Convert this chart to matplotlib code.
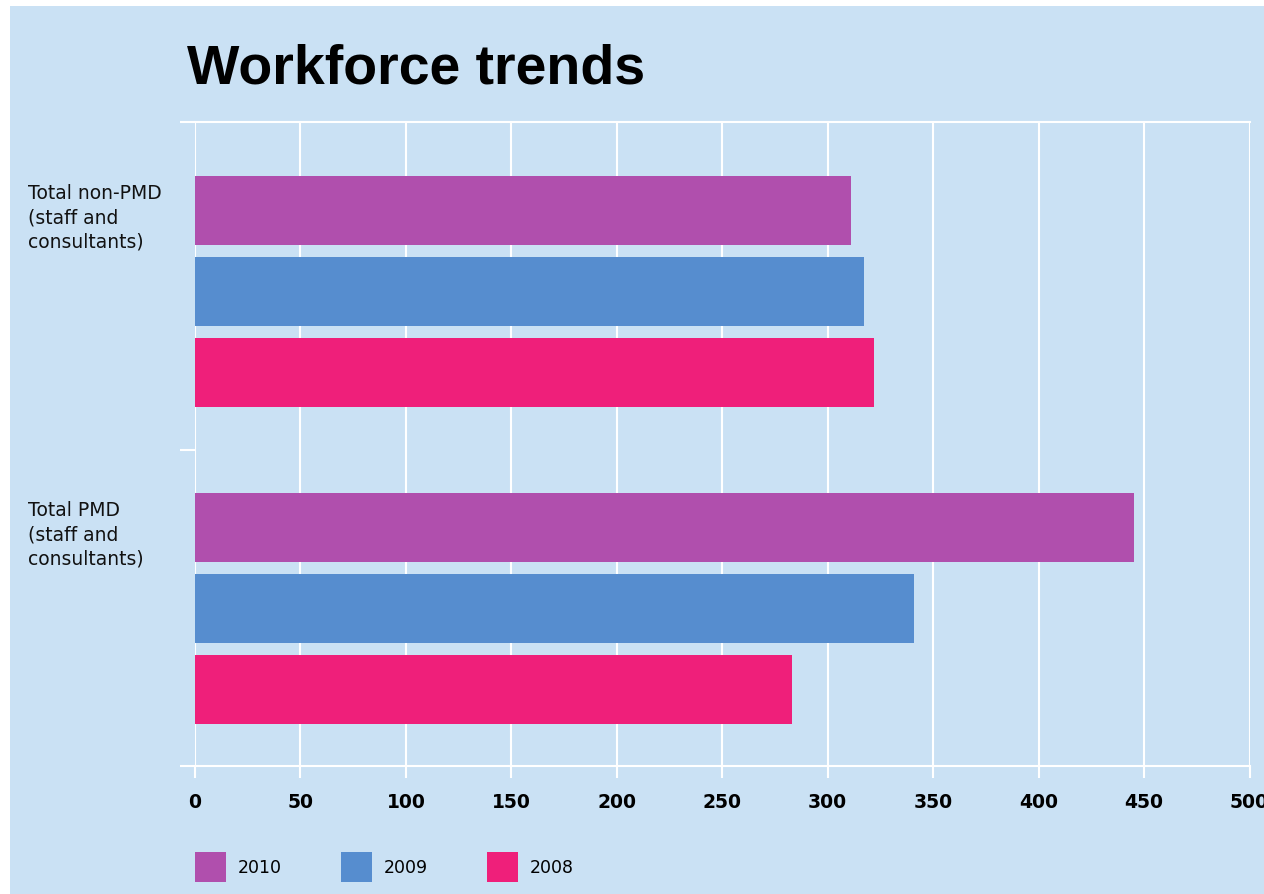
import matplotlib
matplotlib.use("Agg")
import matplotlib.pyplot as plt
from matplotlib.patches import Rectangle
import numpy as np

plt.rcParams['font.family'] = ['DejaVu Sans']

categories = ["Total non-PMD\n(staff and\nconsultants)", "Total PMD\n(staff and\nconsultants)"]
years = ["2010", "2009", "2008"]
values = {
    "2010": [311, 445],
    "2009": [317, 341],
    "2008": [322, 283],
}
colors = {"2010": "#B04FAD", "2009": "#568DCF", "2008": "#EF1F7A"}
xticks = [0, 50, 100, 150, 200, 250, 300, 350, 400, 450, 500]

BG = "#CAE1F4"
W, H = 1264, 895
fig = plt.figure(figsize=(W / 100, H / 100), dpi=100)
fig.patch.set_facecolor("white")
fig.add_artist(Rectangle((10 / W, 0), 1, 1 - 7 / H, transform=fig.transFigure,
                         facecolor=BG, edgecolor="none", zorder=-10))

ax = fig.add_axes([195 / W, 1 - 767 / H, (1249.5 - 195) / W, (767 - 123) / H])
ax.set_facecolor(BG)

pos = np.arange(len(categories))
step = 0.2555
height = 0.2177
offsets = {"2010": -step, "2009": 0.0, "2008": step}
handles = []
for y in years:
    b = ax.barh(pos + offsets[y], values[y], height=height, color=colors[y], label=y, zorder=3)
    handles.append(b)

ax.set_xlim(0, 500)
ax.set_ylim(1.497, -0.535)
ax.set_xticks(xticks)
ax.set_xticklabels([str(t) for t in xticks], fontsize=13.5, fontweight="bold",
                   family="DejaVu Sans")
ax.tick_params(axis="x", length=8.6, width=1.5, color="white", pad=10, labelcolor="black")
ax.xaxis.grid(True, color="white", linewidth=1.5, zorder=1)

ax.set_yticks([-0.535, 0.5, 1.497])
ax.set_yticklabels([])
ax.tick_params(axis="y", length=10.8, width=1.5, color="white")

for s in ["left", "right"]:
    ax.spines[s].set_visible(False)
for s in ["top", "bottom"]:
    ax.spines[s].set_color("white")
    ax.spines[s].set_linewidth(1.5)

# category labels
for i, cat in enumerate(categories):
    ytop = [184, 501][i]
    fig.text(28 / W, 1 - ytop / H, cat, fontsize=13.5, va="top", ha="left",
             linespacing=1.36, color="#111111", family="DejaVu Sans")

fig.text(187 / W, 1 - 43 / H, "Workforce trends", fontsize=40, fontweight="bold",
         va="top", ha="left", family="Liberation Sans")

leg = fig.legend(handles=handles, labels=years, loc="center left",
                 bbox_to_anchor=(195 / W, 1 - 868 / H), ncol=3, frameon=False,
                 prop={"family": "DejaVu Sans", "size": 12.5},
                 handlelength=1.78, handleheight=2.28,
                 handletextpad=0.69, columnspacing=3.4, borderaxespad=0, borderpad=0)

fig.savefig("out.png", dpi=100, facecolor=fig.get_facecolor())
